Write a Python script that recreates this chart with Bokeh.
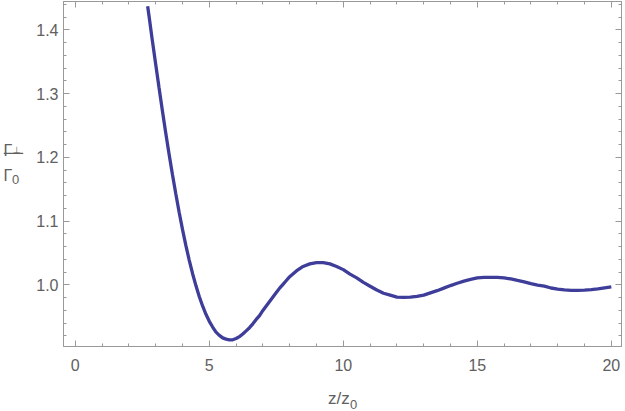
from bokeh.plotting import figure
from bokeh.layouts import row, column
from bokeh.models import (Range1d, FixedTicker, PrintfTickFormatter, LinearAxis,
                          CustomJSTickFormatter)
from bokeh.core.properties import value
from bokeh.embed import file_html
from bokeh.resources import INLINE

# ---- data ----
z_ratio = [2.7, 2.75, 2.875, 3.0, 3.125, 3.25, 3.375, 3.5, 3.625, 3.75, 3.875, 4.0,
           4.125, 4.25, 4.375, 4.5, 4.625, 4.75, 4.875, 5.0, 5.125, 5.25, 5.375, 5.5,
           5.625, 5.75, 5.875, 6.0, 6.125, 6.25, 6.375, 6.5, 6.625, 6.75, 6.875, 7.0,
           7.125, 7.25, 7.375, 7.5, 7.625, 7.75, 7.875, 8.0, 8.25, 8.5, 8.75, 9.0,
           9.25, 9.5, 9.75, 10.0, 10.25, 10.5, 10.75, 11.0, 11.25, 11.5, 11.75, 12.0,
           12.25, 12.5, 12.75, 13.0, 13.25, 13.5, 13.75, 14.0, 14.25, 14.5, 14.75,
           15.0, 15.25, 15.5, 15.75, 16.0, 16.25, 16.5, 16.75, 17.0, 17.25, 17.5,
           17.75, 18.0, 18.25, 18.5, 18.75, 19.0, 19.25, 19.5, 19.75, 20.0]
gamma_ratio = [1.437, 1.422, 1.383, 1.346, 1.309, 1.273, 1.238, 1.205, 1.173, 1.143,
               1.114, 1.087, 1.062, 1.039, 1.018, 0.999, 0.982, 0.967, 0.954, 0.943,
               0.934, 0.926, 0.921, 0.917, 0.915, 0.914, 0.914, 0.916, 0.919, 0.923,
               0.928, 0.933, 0.939, 0.946, 0.952, 0.960, 0.967, 0.974, 0.981, 0.988,
               0.995, 1.001, 1.007, 1.013, 1.022, 1.029, 1.033, 1.035, 1.035, 1.033,
               1.029, 1.024, 1.017, 1.011, 1.004, 0.998, 0.992, 0.987, 0.984, 0.981,
               0.9805, 0.981, 0.982, 0.984, 0.9876, 0.991, 0.995, 0.999, 1.0027, 1.006,
               1.0087, 1.011, 1.012, 1.012, 1.012, 1.011, 1.0094, 1.007, 1.0048, 1.002,
               0.9997, 0.998, 0.9952, 0.9935, 0.9923, 0.9916, 0.9915, 0.9918, 0.9927,
               0.994, 0.9955, 0.997]

x_major = [0, 5, 10, 15, 20]
x_minor = [1, 2, 3, 4, 6, 7, 8, 9, 11, 12, 13, 14, 16, 17, 18, 19]
y_major = [1.0, 1.1, 1.2, 1.3, 1.4]
y_minor = [0.92, 0.94, 0.96, 0.98, 1.02, 1.04, 1.06, 1.08, 1.12, 1.14, 1.16, 1.18,
           1.22, 1.24, 1.26, 1.28, 1.32, 1.34, 1.36, 1.38, 1.42, 1.44]

FRAME = "#999999"
TEXT = "#606060"
CURVE = "#3e3d99"
FONT = "Liberation Sans"


def blank_fig(w, h):
    f = figure(width=w, height=h, output_backend="svg", toolbar_location=None,
               x_range=Range1d(0, w), y_range=Range1d(h, 0),
               x_axis_location=None, y_axis_location=None,
               min_border=0, min_border_left=0, min_border_right=0,
               min_border_top=0, min_border_bottom=0)
    f.grid.visible = False
    f.outline_line_color = None
    f.background_fill_color = "white"
    f.border_fill_color = "white"
    return f


# ---- main plot ----
p = figure(width=601, height=381, output_backend="svg", toolbar_location=None,
           x_range=Range1d(-0.44, 20.38), y_range=Range1d(0.9035, 1.4443),
           x_axis_location=None, y_axis_location=None,
           min_border_left=39, min_border_right=4, min_border_top=1,
           min_border_bottom=35)
p.grid.visible = False
p.outline_line_color = FRAME
p.outline_line_width = 1
p.background_fill_color = "white"
p.border_fill_color = "white"

xt = FixedTicker(ticks=x_major, minor_ticks=x_minor)
yt = FixedTicker(ticks=y_major, minor_ticks=y_minor)


def style_axis(ax, show_labels):
    ax.axis_line_color = FRAME
    ax.major_tick_line_color = FRAME
    ax.minor_tick_line_color = FRAME
    ax.major_tick_in = 6
    ax.major_tick_out = 0
    ax.minor_tick_in = 3
    ax.minor_tick_out = 0
    if show_labels:
        ax.major_label_text_font = FONT
        ax.major_label_text_font_size = "16px"
        ax.major_label_text_color = TEXT
    else:
        ax.formatter = CustomJSTickFormatter(code="return ''")
        ax.major_label_text_font_size = "1px"
        ax.major_label_standoff = 0


bottom = LinearAxis(ticker=xt, formatter=PrintfTickFormatter(format="%d"))
style_axis(bottom, True)
bottom.major_label_standoff = 12
left = LinearAxis(ticker=yt, formatter=PrintfTickFormatter(format="%.1f"))
style_axis(left, True)
left.major_label_standoff = 5
top = LinearAxis(ticker=xt)
style_axis(top, False)
right = LinearAxis(ticker=yt)
style_axis(right, False)
p.add_layout(bottom, "below")
p.add_layout(left, "left")
p.add_layout(top, "above")
p.add_layout(right, "right")

p.line(z_ratio, gamma_ratio, line_width=3.3, line_color=CURVE)

# ---- y-axis label: fraction Gamma_perp / Gamma_0 (own narrow panel, pixel coords) ----
ly = blank_fig(24, 381)
ly.text(x=[3], y=[164], text=["Γ"], text_font=value(FONT), text_font_size="16px",
        text_color=TEXT, text_baseline="alphabetic", text_align="left")
ly.text(x=[12.3], y=[164], text=["⊥"], text_font=value("DejaVu Sans"),
        text_font_size="9px", text_color=TEXT, text_baseline="alphabetic",
        text_align="left")
ly.segment(x0=[3.3], y0=[167.7], x1=[22.7], y1=[167.7], line_color=TEXT,
           line_width=1.2)
ly.text(x=[3], y=[191.7], text=["Γ"], text_font=value(FONT), text_font_size="16px",
        text_color=TEXT, text_baseline="alphabetic", text_align="left")
ly.text(x=[11.5], y=[196.7], text=["0"], text_font=value(FONT), text_font_size="13px",
        text_color=TEXT, text_baseline="alphabetic", text_align="left")

# ---- x-axis label: z/z_0 (own full-width strip below, pixel coords) ----
lx = blank_fig(625, 30)
lx.text(x=[327.5], y=[17], text=["z/z"], text_font=value(FONT), text_font_size="17px",
        text_color=TEXT, text_baseline="alphabetic", text_align="left")
lx.text(x=[349.5], y=[23], text=["0"], text_font=value(FONT), text_font_size="13px",
        text_color=TEXT, text_baseline="alphabetic", text_align="left")

layout = column(row(ly, p, spacing=0), lx, spacing=0)
open("out.html", "w").write(file_html(layout, INLINE))
